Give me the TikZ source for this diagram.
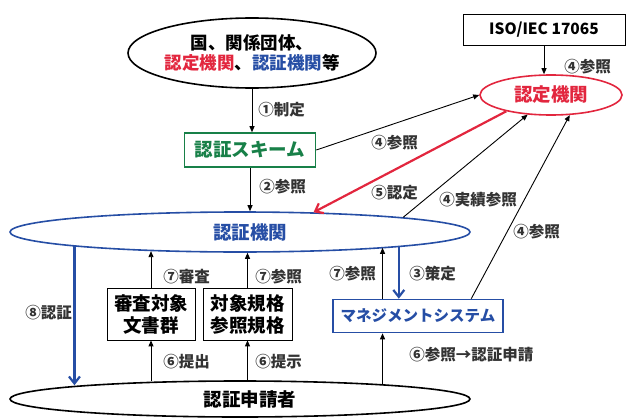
\documentclass[tikz,border=0pt]{standalone}
\usepackage{fontspec}
\setmainfont{Noto Sans CJK JP}
\usetikzlibrary{shapes.geometric,arrows.meta}
\tikzset{>={Triangle[length=6pt,width=5pt]}}
\definecolor{ninteiRed}{RGB}{226,38,62}
\definecolor{ninshoBlue}{RGB}{38,78,165}
\definecolor{schemeGreen}{RGB}{24,128,72}
\tikzset{
  oval/.style={ellipse, draw, line width=1.6pt, inner sep=0pt, font=\bfseries\fontsize{18.5}{21}\selectfont},
  frame/.style={draw, rectangle, line width=0.8pt, inner sep=0pt, font=\bfseries\fontsize{18.5}{22}\selectfont, align=center},
  lbl/.style={anchor=west, inner sep=0pt, text=black!80, font=\bfseries\fontsize{15.5}{17}\selectfont},
  bigarrow/.style={line width=2.2pt, -{Straight Barb[length=7pt,width=11pt]}},
}

\begin{document}
\begin{tikzpicture}[x=1pt,y=-1pt,line width=0.9pt]
    \useasboundingbox (0,0) rectangle (636,417);
    % nodes
    \node[oval, minimum width=248, minimum height=70, align=center, font=\bfseries\fontsize{17.5}{20}\selectfont] (kuni) at (252,53)
        {国、関係団体、\\\textcolor{ninteiRed}{認定機関}、\textcolor{ninshoBlue}{認証機関}等};
    \node[frame, minimum width=162, minimum height=31, font=\bfseries\fontsize{15.5}{18}\selectfont] (iso) at (544,30) {ISO/IEC 17065};
    \node[oval, draw=ninteiRed, text=ninteiRed, minimum width=142, minimum height=40] (nintei) at (551,95) {認定機関};
    \node[frame, draw=schemeGreen, text=schemeGreen, line width=1.6pt, minimum width=131, minimum height=34] (scheme) at (250,150) {認証スキーム};
    \node[oval, draw=ninshoBlue, text=ninshoBlue, minimum width=460, minimum height=40] (ninsho) at (240,232) {\hspace*{20pt}認証機関};
    \node[oval, minimum width=460, minimum height=36] (shinsei) at (240,399) {\hspace*{20pt}認証申請者};
    \node[frame, minimum width=88, minimum height=52] (docs) at (151,314) {審査対象\\文書群};
    \node[frame, minimum width=89, minimum height=52] (kikaku) at (247.5,314) {対象規格\\参照規格};
    \node[frame, draw=ninshoBlue, text=ninshoBlue, line width=1.6pt, minimum width=170, minimum height=33,
          font=\bfseries\fontsize{15.5}{18}\selectfont] (ms) at (418,316) {マネジメントシステム};
    % connectors
    \draw[->] (kuni.south) -- (kuni.south |- scheme.north);
    \draw[->] (scheme.south) -- (scheme.south |- ninsho.north);
    \draw[->] (iso.south) -- (iso.south |- nintei.north);
    \draw[->] (scheme.east) -- (nintei.west);
    \draw[ninteiRed, bigarrow] (nintei.200) -- (ninsho.15);
    \draw[->] (ninsho.north east) -- (nintei.220);
    \draw[->] (ms.18) -- (nintei.313);
    \draw[->] (docs.north) -- (docs.north |- ninsho.192);
    \draw[->] (kikaku.north) -- (kikaku.north |- ninsho.289);
    \draw[->] (ms.154) -- (ms.154 |- ninsho.354);
    \draw[ninshoBlue, bigarrow] (ms.138 |- ninsho.355) -- (ms.138);
    \draw[->] (docs.south |- shinsei.168) -- (docs.south);
    \draw[->] (kikaku.south |- shinsei.north) -- (kikaku.south);
    \draw[->] (ms.206 |- shinsei.6) -- (ms.206);
    \draw[ninshoBlue, bigarrow] (ninsho.185) -- (ninsho.185 |- shinsei.175);
    % labels
    \node[lbl] (l1) at (258,110) {①制定};
    \node[lbl] (l2) at (259,187) {②参照};
    \node[lbl] (l3) at (409,274) {③策定};
    \node[lbl] (l4a) at (564,67) {④参照};
    \node[lbl] (l4b) at (371,143) {④参照};
    \node[lbl] (l4c) at (439,200) {④実績参照};
    \node[lbl] (l4d) at (513,232) {④参照};
    \node[lbl] (l5) at (371,193) {⑤認定};
    \node[lbl] (l6a) at (163,362) {⑥提出};
    \node[lbl] (l6b) at (255,362) {⑥提示};
    \node[lbl] (l6c) at (409,355) {⑥参照→認証申請};
    \node[lbl] (l7a) at (163,277) {⑦審査};
    \node[lbl] (l7b) at (255,277) {⑦参照};
    \node[lbl] (l7c) at (329,274) {⑦参照};
    \node[lbl] (l8) at (25,313) {⑧認証};
\end{tikzpicture}
\end{document}
